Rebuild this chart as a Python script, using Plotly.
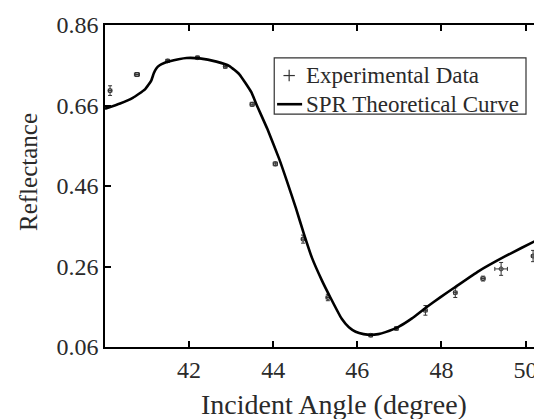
import plotly.graph_objects as go

# Theoretical SPR curve
curve_angle = [40.00, 40.36, 40.66, 40.95, 41.10, 41.16, 41.22, 41.30, 41.42, 41.54, 41.75,
               41.94, 42.25, 42.65, 42.96, 43.20, 43.48, 43.60, 43.86, 44.14, 44.33, 44.54,
               44.73, 44.92, 45.16, 45.36, 45.63, 45.80, 45.96, 46.15, 46.32, 46.50, 46.67,
               46.98, 47.30, 47.62, 47.98, 48.33, 48.88, 49.51, 50.30, 50.50]
curve_refl = [0.652, 0.665, 0.679, 0.700, 0.722, 0.740, 0.752, 0.760, 0.766, 0.770, 0.775,
              0.778, 0.777, 0.769, 0.758, 0.737, 0.693, 0.663, 0.602, 0.528, 0.471, 0.405,
              0.341, 0.282, 0.225, 0.183, 0.130, 0.109, 0.098, 0.092, 0.090, 0.092, 0.097,
              0.110, 0.131, 0.157, 0.184, 0.209, 0.248, 0.285, 0.327, 0.336]

# Experimental data
exp_angle = [40.12, 40.76, 41.49, 42.20, 42.86, 43.50, 44.05, 44.71, 45.30, 46.32,
             46.93, 47.62, 48.33, 48.99, 49.42, 50.18]
exp_refl = [0.697, 0.737, 0.771, 0.779, 0.757, 0.663, 0.515, 0.328, 0.183, 0.089,
            0.106, 0.151, 0.195, 0.230, 0.254, 0.286]
exp_err_y = [0.012, 0.005, 0.003, 0.003, 0.004, 0.005, 0.005, 0.010, 0.008, 0.002,
             0.004, 0.012, 0.012, 0.006, 0.016, 0.014]
exp_err_x = [0.04, 0.06, 0.04, 0.04, 0.04, 0.05, 0.05, 0.04, 0.04, 0.04,
             0.04, 0.04, 0.04, 0.05, 0.15, 0.04]

x_ticks = [42, 44, 46, 48, 50]
y_ticks = [0.06, 0.26, 0.46, 0.66, 0.86]

legend_labels = ["Experimental Data", "SPR Theoretical Curve"]
x_title = "Incident Angle (degree)"
y_title = "Reflectance"

FONT = "Liberation Serif, Times New Roman, Times, serif"
TXT = "#2a2a2a"

fig = go.Figure()

fig.add_trace(go.Scatter(
    x=exp_angle, y=exp_refl, mode="markers", name=legend_labels[0], showlegend=False,
    marker=dict(symbol="circle-open", size=4, color="#333333", line=dict(width=1)),
    error_y=dict(type="data", array=exp_err_y, visible=True, color="#333333", thickness=1, width=2),
    error_x=dict(type="data", array=exp_err_x, visible=True, color="#333333", thickness=1, width=2),
))
fig.add_trace(go.Scatter(
    x=curve_angle, y=curve_refl, mode="lines", name=legend_labels[1], showlegend=False,
    line=dict(color="black", width=2.6, shape="spline", smoothing=0.4),
))

# Legend drawn in paper coordinates (box, symbols, labels)
bx0, bx1, by0, by1 = 0.3855, 0.959, 0.723, 0.898
row_y = [0.843, 0.754]
sym_x = 0.4195
text_x = 0.4535
fig.add_shape(type="rect", xref="paper", yref="paper", x0=bx0, x1=bx1, y0=by0, y1=by1,
              line=dict(color="#333333", width=1.2), fillcolor="white", layer="above")
fig.add_shape(type="line", xref="paper", yref="paper", x0=sym_x - 0.013, x1=sym_x + 0.013,
              y0=row_y[0], y1=row_y[0], line=dict(color="#333333", width=1.2), layer="above")
fig.add_shape(type="line", xref="paper", yref="paper", x0=sym_x, x1=sym_x,
              y0=row_y[0] - 0.018, y1=row_y[0] + 0.018, line=dict(color="#333333", width=1.2), layer="above")
fig.add_shape(type="line", xref="paper", yref="paper", x0=0.392, x1=0.449,
              y0=row_y[1], y1=row_y[1], line=dict(color="black", width=2.6), layer="above")
for lbl, yy in zip(legend_labels, row_y):
    fig.add_annotation(text=lbl, xref="paper", yref="paper", x=text_x, y=yy,
                       xanchor="left", yanchor="middle", showarrow=False,
                       font=dict(family=FONT, size=23, color=TXT))

# Axis titles
fig.add_annotation(text=x_title, xref="paper", yref="paper", x=0.5215, y=-0.178,
                   xanchor="center", yanchor="middle", showarrow=False,
                   font=dict(family=FONT, size=28, color=TXT))
fig.add_annotation(text=y_title, xref="paper", yref="paper", x=-0.1746, y=0.5446,
                   xanchor="center", yanchor="middle", showarrow=False, textangle=-90,
                   font=dict(family=FONT, size=25, color=TXT))

fig.update_layout(
    width=542, height=419,
    margin=dict(l=97, r=4, t=14, b=80),
    plot_bgcolor="white", paper_bgcolor="white",
    font=dict(family=FONT, size=24, color=TXT),
    showlegend=False,
)
fig.update_xaxes(
    range=[40, 50.44], tickvals=x_ticks, ticktext=[str(v) for v in x_ticks],
    showgrid=False, zeroline=False,
    showline=True, linecolor="black", linewidth=1.5, mirror="ticks",
    ticks="inside", ticklen=6, tickwidth=1.5, tickcolor="black",
    tickfont=dict(family=FONT, size=24, color=TXT),
)
fig.update_yaxes(
    range=[0.06, 0.86], tickvals=y_ticks, ticktext=["%.2f" % v for v in y_ticks],
    showgrid=False, zeroline=False,
    showline=True, linecolor="black", linewidth=1.5, mirror="ticks",
    ticks="inside", ticklen=6, tickwidth=1.5, tickcolor="black",
    tickfont=dict(family=FONT, size=24, color=TXT),
)

fig.write_html("out.html")
